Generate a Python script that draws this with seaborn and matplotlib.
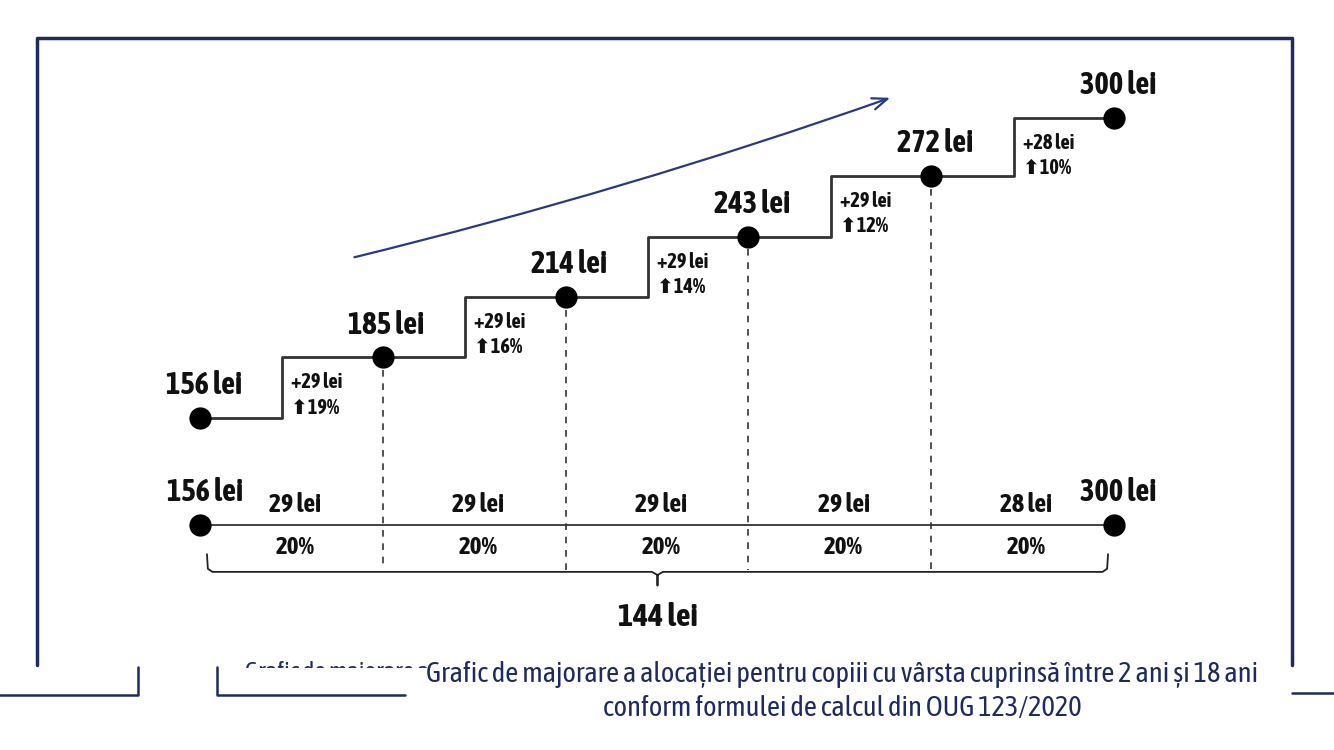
import numpy as np
import pandas as pd
import seaborn as sns
import matplotlib.pyplot as plt
from matplotlib.lines import Line2D
from matplotlib.patches import Rectangle
from matplotlib import font_manager

# allowance values (lei) for each step
values = [156, 185, 214, 243, 272, 300]
step_lei = ["+29 lei", "+29 lei", "+29 lei", "+29 lei", "+28 lei"]
step_pct = ["19%", "16%", "14%", "12%", "10%"]
seg_lei = ["29 lei", "29 lei", "29 lei", "29 lei", "28 lei"]
seg_pct = ["20%", "20%", "20%", "20%", "20%"]
total_lei = "144 lei"
caption = ["Grafic de majorare a alocației pentru copiii cu vârsta cuprinsă între 2 ani și 18 ani",
           "conform formulei de calcul din OUG 123/2020"]
ghost_caption = "Grafic de majorare a"

sns.set_theme(style="white")


def wnum(w):
    if isinstance(w, str):
        return font_manager.weight_dict.get(w, 400)
    return w


# the original uses a condensed bold face, pick a narrow family with a bold file
fonts = font_manager.fontManager.ttflist
narrow = [f.name for f in fonts
          if ("Narrow" in f.name or "Condensed" in f.name) and wnum(f.weight) >= 600]
narrow_any = [f.name for f in fonts if "Narrow" in f.name or "Condensed" in f.name]
if narrow:
    fam = sorted(set(narrow))[0]
    k = 1.0
elif narrow_any:
    fam = sorted(set(narrow_any))[0]
    k = 1.0
else:
    fam = "DejaVu Sans"
    k = 0.8
plt.rcParams['font.family'] = [fam, 'DejaVu Sans']

navy = "#1f2a5e"
ink = "#111111"
W, H = 1334, 750
fig = plt.figure(figsize=(13.34, 7.5), dpi=100)
ax = fig.add_axes([0, 0, 1, 1])
ax.set_xlim(-1.094, 6.203)
ax.set_ylim(-3.4, 356.6)
ax.axis("off")

# step line
riser = 0.45
px, py = [0], [values[0]]
for i in range(1, len(values)):
    px += [i - 1 + riser, i - 1 + riser]
    py += [values[i - 1], values[i]]
px.append(len(values) - 1)
py.append(values[-1])
sns.lineplot(x=px, y=py, sort=False, estimator=None, color="#333333", lw=2, ax=ax)
sns.scatterplot(x=list(range(len(values))), y=values, s=220, color="black",
                edgecolor="black", zorder=5, ax=ax)

# labels over points
for i, v in enumerate(values):
    ax.text(i + 0.02, v + 15.5, f"{v} lei", ha="center", va="center",
            fontsize=22 * k, fontweight="bold", color=ink)

# step increments
for i in range(1, len(values)):
    xr = i - 1 + riser + 0.05
    ax.text(xr, values[i] - 12, step_lei[i - 1], ha="left", va="center",
            fontsize=14.5 * k, fontweight="bold", color=ink)
    ax.text(xr, values[i] - 24, "⬆" + step_pct[i - 1], ha="left", va="center",
            fontsize=14.5 * k, fontweight="bold", color=ink)

# bottom scale
base = 104.6
ax.plot([0, len(values) - 1], [base, base], color="#222222", lw=1.2)
sns.scatterplot(x=[0, len(values) - 1], y=[base, base], s=220, color="black",
                edgecolor="black", zorder=5, ax=ax)
ax.text(0.03, base + 15.5, f"{values[0]} lei", ha="center", va="center",
        fontsize=22 * k, fontweight="bold", color=ink)
ax.text(len(values) - 1 + 0.02, base + 15.5, f"{values[-1]} lei", ha="center", va="center",
        fontsize=22 * k, fontweight="bold", color=ink)

for i in range(1, len(values) - 1):
    ax.plot([i, i], [values[i] - 6, base - 21.5], color="#333333", lw=1.2,
            ls=(0, (4, 4)))

for i in range(len(values) - 1):
    ax.text(i + 0.5 + 0.02, base + 9.6, seg_lei[i], ha="center", va="center",
            fontsize=18.5 * k, fontweight="bold", color=ink)
    ax.text(i + 0.5 + 0.02, base - 11, seg_pct[i], ha="center", va="center",
            fontsize=18 * k, fontweight="bold", color=ink)

# brace
x0, x1 = 0.038, len(values) - 1 - 0.033
xc = (x0 + x1) / 2
yb = base - 22.5
bx = [x0, x0 + 0.005, x0 + 0.03, xc - 0.03, xc, xc, xc, xc + 0.03, x1 - 0.03, x1 - 0.005, x1]
by = [base - 14, yb + 1.5, yb, yb, yb - 1.5, yb - 6.5, yb - 1.5, yb, yb, yb + 1.5, base - 14]
ax.plot(bx, by, color="#222222", lw=1.3)
ax.text(xc, 60, total_lei, ha="center", va="center", fontsize=23 * k,
        fontweight="bold", color=ink)

# trend arrow
ax.annotate("", xy=(3.79, 310.1), xytext=(0.83, 232.8),
            arrowprops=dict(arrowstyle="->,head_length=0.9,head_width=0.35",
                            color="#2a3a80", lw=1.6,
                            connectionstyle="arc3,rad=0.025"))

# frame pieces (pixel positions)
def fline(xs, ys, **kw):
    fig.add_artist(Line2D([x / W for x in xs], [1 - y / H for y in ys],
                          transform=fig.transFigure, color=navy, **kw))

fline([37, 37, 1292, 1292], [665, 38, 38, 665], lw=2.5)
fline([0, 138, 138], [695, 695, 667], lw=1.8)
fline([217, 217, 405], [667, 695, 695], lw=1.8)
fline([1292, 1334], [693, 693], lw=1.8)

# caption, with the half-hidden copy peeking out on the left as in the source
ghost = fig.text(245 / W, 1 - 673 / H, ghost_caption, ha="left", va="center",
                 fontsize=18 * k, color=navy)
ghost.set_clip_path(Rectangle((0, 1 - 668 / H), 1, 0.1,
                              transform=fig.transFigure))
fig.text(842 / W, 1 - 675 / H, caption[0], ha="center", va="center",
         fontsize=20.5 * k, color=navy)
fig.text(842 / W, 1 - 708 / H, caption[1], ha="center", va="center",
         fontsize=20.5 * k, color=navy)

fig.savefig("out.png", dpi=100)
